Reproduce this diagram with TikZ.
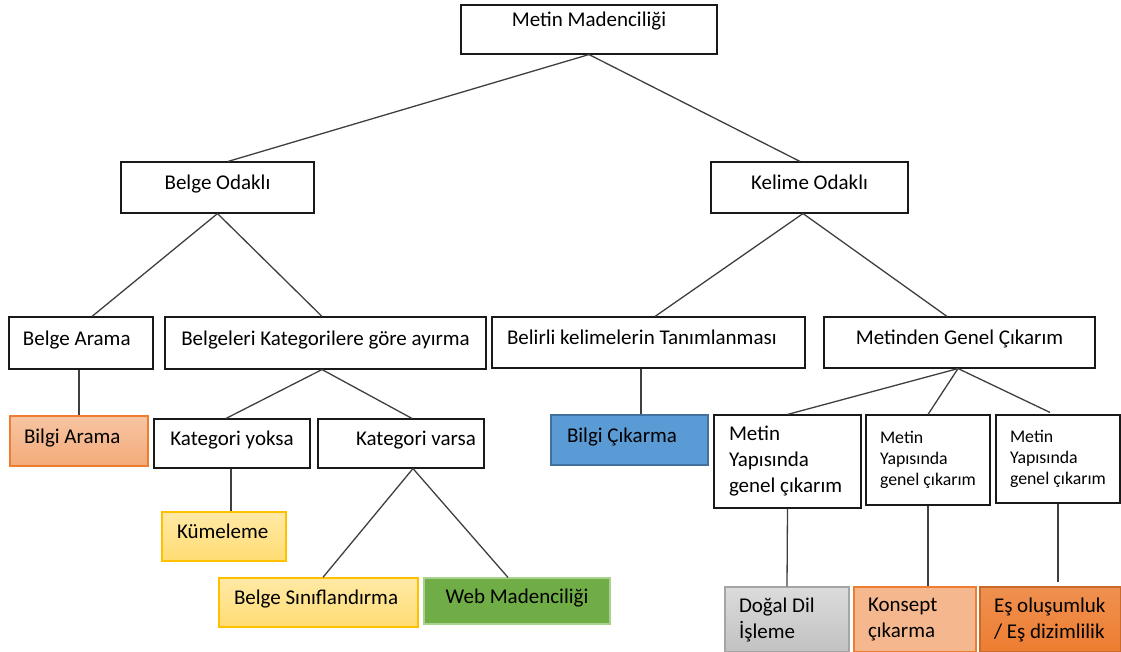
\documentclass[tikz,border=0pt]{standalone}
\usepackage{fontspec}
\setmainfont{Carlito}
\definecolor{linegray}{HTML}{3F3F3F}
\definecolor{orangeline}{HTML}{ED7D31}
\definecolor{goldline}{HTML}{FFC000}
\definecolor{blueline}{HTML}{41719C}
\definecolor{blueFill}{HTML}{5B9BD5}
\definecolor{greenFill}{HTML}{70AD47}
\definecolor{greenLine}{HTML}{A9D18E}
\definecolor{grayline}{HTML}{A5A5A5}
\begin{document}
\begin{tikzpicture}[x=1pt,y=1pt,
  box/.style={rectangle, draw=black!90, line width=1.1pt, fill=white, inner ysep=0pt,
    font=\fontsize{21}{26}\selectfont},
  small/.style={font=\fontsize{17.8}{21}\selectfont},
  oneline/.style={text height=14pt, text depth=10pt},
  ctr/.style={align=flush center},
  lft/.style={align=flush left},
  salmon/.style={draw=orangeline, line width=1.4pt, top color=orangeline!45, bottom color=orangeline!65},
  gold/.style={draw=goldline, line width=1.4pt, top color=goldline!35, bottom color=goldline!55},
  blue/.style={draw=blueline, line width=1.1pt, fill=blueFill},
  green/.style={draw=greenLine, line width=1.1pt, fill=greenFill},
  gray/.style={draw=grayline, line width=1.4pt, top color=black!14, bottom color=black!24},
  peach/.style={draw=orangeline, line width=1.4pt, fill=orangeline!55},
  orng/.style={draw=orangeline!85!black, line width=1.4pt, top color=orangeline!85, bottom color=orangeline},
  link/.style={draw=linegray, line width=1.3pt}
]
\useasboundingbox (0,0) rectangle (1121,-652);

% level 0
\node[box, oneline, ctr, text depth=20pt, minimum width=256, minimum height=49, inner xsep=0pt, text width=256] (root) at (589,-29.5) {Metin Madenciliği};

% level 1
\node[box, oneline, ctr, minimum width=193, minimum height=51, inner xsep=0pt, text width=193] (bo) at (217.5,-187.5) {Belge Odaklı};
\node[box, oneline, ctr, minimum width=197, minimum height=51, inner xsep=0pt, text width=193] (ko) at (809.5,-187.5) {Kelime Odaklı};

% level 2
\node[box, oneline, lft, minimum width=144, minimum height=52, inner xsep=14pt, text width=116] (ba) at (81,-343) {Belge Arama};
\node[box, oneline, ctr, minimum width=321, minimum height=52, inner xsep=0pt, text width=321] (bk) at (325.5,-343) {Belgeleri Kategorilere göre ayırma};
\node[box, oneline, lft, minimum width=313, minimum height=51, inner xsep=15pt, text width=283] (bt) at (648.5,-342.5) {Belirli kelimelerin Tanımlanması};
\node[box, oneline, ctr, minimum width=271, minimum height=51, inner xsep=0pt, text width=271] (mg) at (959.5,-342.5) {Metinden Genel Çıkarım};

% level 3
\node[box, salmon, oneline, lft, minimum width=138, minimum height=50, inner xsep=14pt, text width=110] (bar) at (79,-441) {Bilgi Arama};
\node[box, oneline, ctr, minimum width=156, minimum height=49, inner xsep=0pt, text width=156] (ky) at (232,-443.5) {Kategori yoksa};
\node[box, oneline, lft, minimum width=166, minimum height=49, inner xsep=0pt, text width=166] (kv) at (401,-443.5) {\hspace*{38pt}Kategori varsa};
\node[box, blue, oneline, lft, minimum width=157, minimum height=50, inner xsep=16pt, text width=125] (bc) at (629.5,-440) {Bilgi Çıkarma};
\node[box, lft, minimum width=147, minimum height=93, inner xsep=15pt, text width=117] (m1) at (787.5,-461.5) {Metin\\Yapısında\\genel çıkarım};
\node[box, small, lft, minimum width=124, minimum height=90, inner xsep=14pt, text width=96] (m2) at (928,-460) {Metin\\Yapısında\\genel çıkarım};
\node[box, small, lft, minimum width=124, minimum height=88, inner xsep=14pt, text width=96] (m3) at (1058,-459) {Metin\\Yapısında\\genel çıkarım};

% level 4
\node[box, gold, oneline, lft, minimum width=124, minimum height=49, inner xsep=15pt, text width=94] (km) at (224,-536.5) {Kümeleme};
\node[box, gold, oneline, lft, minimum width=199, minimum height=49, inner xsep=15pt, text width=169] (bs) at (318.5,-602.5) {Belge Sınıflandırma};
\node[box, green, oneline, ctr, minimum width=186, minimum height=46, inner xsep=0pt, text width=186] (wm) at (517,-601) {Web Madenciliği};
\node[box, gray, lft, minimum width=124, minimum height=65, inner xsep=14pt, text width=96] (dd) at (787,-619.5) {Doğal Dil\\İşleme};
\node[box, peach, lft, minimum width=122, minimum height=65, inner xsep=14pt, text width=94] (ks) at (915,-619.5) {Konsept\\çıkarma};
\node[box, orng, lft, minimum width=141, minimum height=65, inner xsep=0pt, text width=141] (es) at (1050.5,-619.5) {\hspace*{14pt}Eş oluşumluk\\\hspace*{14pt}/ Eş dizimlilik};

% connectors
\draw[link] (root.south) -- ([xshift=10.5pt]bo.north);
\draw[link] (root.south) -- ([xshift=-9.5pt]ko.north);
\draw[link] (bo.south) -- ([xshift=11pt]ba.north);
\draw[link] (bo.south) -- ([xshift=-3.5pt]bk.north);
\draw[link] ([xshift=-6.5pt]ko.south) -- ([xshift=6.5pt]bt.north);
\draw[link] ([xshift=-6.5pt]ko.south) -- ([xshift=-12.5pt]mg.north);
\draw[link] ([xshift=-2pt]ba.south) -- (bar.north);
\draw[link] ([xshift=-3.5pt]bk.south) -- ([xshift=-6pt]ky.north);
\draw[link] ([xshift=-3.5pt]bk.south) -- ([xshift=11pt]kv.north);
\draw[link] ([xshift=-7.5pt]bt.south) -- ([xshift=11.5pt]bc.north);
\draw[link] ([xshift=-1.5pt]mg.south) -- (m1.north);
\draw[link] ([xshift=-1.5pt]mg.south) -- (m2.north);
\draw[link] ([xshift=-1.5pt]mg.south) -- ([xshift=-8pt,yshift=2pt]m3.north);
\draw[link] ([xshift=-1pt]ky.south) -- ([xshift=7pt]km.north);
\draw[link] ([xshift=12pt]kv.south) -- ([xshift=4.5pt]bs.north);
\draw[link] ([xshift=12pt]kv.south) -- ([xshift=-9pt]wm.north);
\draw[link] (m1.south) -- (dd.north);
\draw[link] (m2.south) -- ([xshift=13pt]ks.north);
\draw[link] (m3.south) -- ([xshift=7.5pt,yshift=4pt]es.north);
\end{tikzpicture}
\end{document}
